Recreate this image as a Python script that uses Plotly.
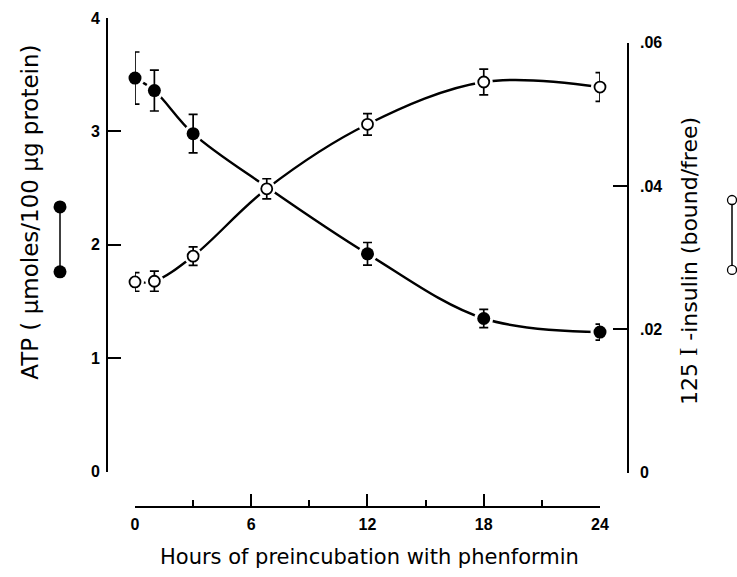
import plotly.graph_objects as go

# ---- data ----
hours = [0, 1, 3, 6.8, 12, 18, 24]
atp = [3.47, 3.36, 2.98, 2.51, 1.92, 1.35, 1.23]
atp_err = [0.23, 0.18, 0.17, 0.0, 0.10, 0.08, 0.07]
insulin = [0.0266, 0.0267, 0.0302, 0.0396, 0.0486, 0.0545, 0.0538]
insulin_err = [0.0013, 0.0014, 0.0013, 0.0014, 0.0015, 0.0018, 0.0020]

x_ticks = [0, 6, 12, 18, 24]
x_minor = [3, 9, 15, 21]
atp_ticks = [0, 1, 2, 3, 4]
ins_ticks = [0, 0.02, 0.04, 0.06]
ins_ticktext = ["0", ".02", ".04", ".06"]

BLACK = "black"
tickfont = dict(family="Liberation Sans", size=16, color=BLACK, weight="bold")

fig = go.Figure()

# smooth curves
fig.add_trace(go.Scatter(x=hours, y=atp, mode="lines", xaxis="x", yaxis="y",
                         line=dict(color=BLACK, width=2.4, shape="spline", smoothing=1),
                         hoverinfo="skip", cliponaxis=False))
# white halos so lines stop short of markers
fig.add_trace(go.Scatter(x=hours, y=atp, mode="markers", xaxis="x", yaxis="y",
                         marker=dict(size=19, color="white", line=dict(width=0)),
                         hoverinfo="skip", cliponaxis=False))
fig.add_trace(go.Scatter(x=hours, y=atp, mode="markers", xaxis="x", yaxis="y",
                         marker=dict(size=13, color=BLACK, line=dict(width=0)),
                         error_y=dict(type="data", array=atp_err, color=BLACK,
                                      thickness=1.7, width=4.5),
                         cliponaxis=False, name="ATP"))

fig.add_trace(go.Scatter(x=hours, y=insulin, mode="lines", xaxis="x", yaxis="y2",
                         line=dict(color=BLACK, width=2.4, shape="spline", smoothing=1),
                         hoverinfo="skip", cliponaxis=False))
fig.add_trace(go.Scatter(x=hours, y=insulin, mode="markers", xaxis="x", yaxis="y2",
                         marker=dict(size=18, color="white", line=dict(width=0)),
                         hoverinfo="skip", cliponaxis=False))
fig.add_trace(go.Scatter(x=hours, y=insulin, mode="markers", xaxis="x", yaxis="y2",
                         marker=dict(size=11, color="white", line=dict(width=1.8, color=BLACK)),
                         error_y=dict(type="data", array=insulin_err, color=BLACK,
                                      thickness=1.7, width=4.5),
                         cliponaxis=False, name="insulin"))

common_axis = dict(showline=True, linecolor=BLACK, linewidth=1.6, ticks="inside",
                   tickwidth=1.6, tickcolor=BLACK, showgrid=False, zeroline=False,
                   tickfont=tickfont)

fig.update_layout(
    width=737, height=577,
    margin=dict(l=107, r=109, t=10, b=70, pad=0),
    paper_bgcolor="white", plot_bgcolor="rgba(0,0,0,0)",
    showlegend=False,
    xaxis=dict(domain=[0.05374, 0.94626], range=[0, 24], anchor="free", position=0,
               tickvals=x_ticks, ticklen=12, ticklabelstandoff=3,
               minor=dict(tickvals=x_minor, ticks="inside", ticklen=6, tickwidth=1.6,
                          tickcolor=BLACK, showgrid=False),
               **common_axis),
    yaxis=dict(domain=[0.07243, 1.0], range=[0, 4], anchor="free", position=0,
               tickvals=atp_ticks, ticklen=13, ticklabelstandoff=3, **common_axis),
    yaxis2=dict(domain=[0.07042, 0.9497], range=[0, 0.06], anchor="free", position=1,
                side="right", tickvals=ins_ticks, ticktext=ins_ticktext, ticklen=14,
                ticklabelstandoff=8, **common_axis),
)

# axis titles
fig.add_annotation(text="Hours of preincubation with phenformin", xref="paper", yref="paper",
                   x=(369 - 107) / 521, y=(507 - 558) / 497, xanchor="center", yanchor="middle",
                   showarrow=False, font=dict(family="DejaVu Sans", size=21, color=BLACK))
fig.add_annotation(text="ATP ( \u03bcmoles/100 \u03bcg protein)", xref="paper", yref="paper",
                   x=(30 - 107) / 521, y=(507 - 208) / 497, xanchor="center", yanchor="middle",
                   textangle=-90, showarrow=False,
                   font=dict(family="DejaVu Sans", size=23, color=BLACK))
fig.add_annotation(text="125 <span style='font-family:Liberation Serif;font-size:25px'>I</span> -insulin (bound/free)",
                   xref="paper", yref="paper",
                   x=(688 - 107) / 521, y=(507 - 257) / 497, xanchor="center", yanchor="middle",
                   textangle=-90, showarrow=False,
                   font=dict(family="DejaVu Sans", size=22, color=BLACK))

# symbol keys beside the axis titles
def px_x(p):
    return (p - 107) / 521

def px_y(p):
    return (507 - p) / 497

shapes = []
shapes.append(dict(type="line", xref="paper", yref="paper", x0=px_x(60), x1=px_x(60),
                   y0=px_y(202), y1=px_y(268), line=dict(color=BLACK, width=1.5)))
for yy in (202, 268):
    shapes.append(dict(type="circle", xref="paper", yref="paper", xsizemode="pixel",
                       ysizemode="pixel", xanchor=px_x(60), yanchor=px_y(yy),
                       x0=-6.5, x1=6.5, y0=-6.5, y1=6.5, fillcolor=BLACK,
                       line=dict(color=BLACK, width=0)))
shapes.append(dict(type="line", xref="paper", yref="paper", x0=px_x(732), x1=px_x(732),
                   y0=px_y(200), y1=px_y(261), line=dict(color=BLACK, width=1.5)))
for yy in (195, 266):
    shapes.append(dict(type="circle", xref="paper", yref="paper", xsizemode="pixel",
                       ysizemode="pixel", xanchor=px_x(732), yanchor=px_y(yy),
                       x0=-4.5, x1=4.5, y0=-4.5, y1=4.5, fillcolor="white",
                       line=dict(color=BLACK, width=1.3)))
fig.update_layout(shapes=shapes)

# remove the browser's default 8px body margin so the figure sits at the page origin
fig.write_html("out.html", config={"displayModeBar": False},
               post_script="document.body.style.margin='0';")
